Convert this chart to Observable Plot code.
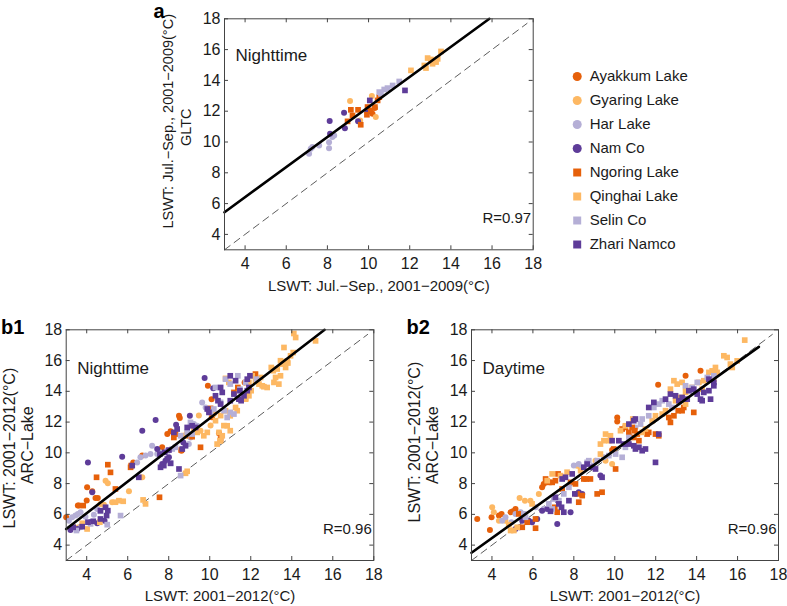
<!DOCTYPE html>
<html><head><meta charset="utf-8">
<script src="https://cdn.jsdelivr.net/npm/d3@7"></script>
<script src="https://cdn.jsdelivr.net/npm/@observablehq/plot@0.6"></script>
<style>
html,body{margin:0;padding:0;background:#fff;}
#chart{position:relative;width:787px;height:606px;overflow:hidden;background:#fff;}
#chart svg{position:absolute;left:0;top:0;}
</style></head><body><div id="chart"></div>
<script>
// ---------- categories ----------
const lakes = ["Ayakkum Lake","Gyaring Lake","Har Lake","Nam Co","Ngoring Lake","Qinghai Lake","Selin Co","Zhari Namco"];
const lakeSymbols = ["circle","circle","circle","circle","square","square","square","square"];
const lakeColors = ["#e6600a","#fdb863","#b5afd6","#5e3c99","#e6600a","#fdb863","#b5afd6","#5e3c99"];
const xTicks = [4,6,8,10,12,14,16,18];
const yTicks = [4,6,8,10,12,14,16,18];

// ---------- panel a (GLTC, nighttime) ----------
const aAyakkum = [[10.19,11.83],[10.3,12.2]];
const aGyaring = [[9.1,12.66],[10.16,12.98],[10.35,11.62],[9.59,11.4]];
const aHar = [[8.33,10.43],[8.24,10.32],[8.08,9.99],[8.08,9.6],[7.6,9.78],[7.19,9.56],[7.11,9.24],[7.27,9.67]];
const aNam = [[8.81,11.9],[8.11,11.36],[8.85,10.9],[9.49,11.34],[9.95,11.98],[8.13,10.53]];
const aNgoring = [[9.14,12.09],[9.49,12.09],[9.22,11.72],[8.98,11.34],[9.62,11.12],[9.95,12.27],[10.11,12.05],[9.92,11.77],[10.31,12.27],[10.52,12.91],[10.44,12.7]];
const aQinghai = [[12.87,15.45],[13.03,15.36],[13.2,15.3],[13.36,15.4],[13.28,15.19],[13.11,15.08],[12.79,14.8],[12.71,14.97],[13.52,15.88],[12.06,14.65]];
const aSelin = [[11.49,13.93],[11.17,13.67],[10.92,13.5],[10.76,13.41],[10.52,13.24],[10.6,13.13]];
const aZhari = [[11.77,13.35],[10.06,12.7]];
const aFit = [[3,5.44],[15.87,18]];

// ---------- panel b1 (ARC-Lake, nighttime) ----------
const b1Ayakkum = [[3.0,5.81],[3.57,6.57],[4.0,6.9],[4.02,7.76],[4.43,7.07],[4.54,7.07],[6.27,9.38],[6.71,9.82],[7.68,10.36],[7.93,11.22],[8.09,11.4],[8.5,12.41],[8.54,12.26],[9.91,14.36],[10.09,13.49],[10.45,11.27],[11.7,14.58],[8.62,10.14],[10.1,12.31],[3.62,6.57],[4.27,7.5]];
const b1Gyaring = [[4.92,8.19],[5.03,8.02],[4.67,6.68],[4.84,6.63],[6.71,8.41],[3.4,5.16],[3.62,5.16],[9.47,12.42],[10.04,11.77],[9.55,11.44],[10.2,12.52],[8.9,11.33],[5.24,6.79],[6.06,7.5]];
const b1Har = [[3.13,5.59],[3.29,5.81],[3.45,5.92],[3.57,6.03],[3.7,6.14],[3.94,5.85],[4.35,5.98],[4.51,6.35],[6.46,9.38],[6.62,9.71],[6.87,9.82],[7.11,9.92],[7.44,9.92],[7.6,10.03],[8.98,10.57],[9.06,11.0],[9.23,11.87],[9.39,11.76],[9.63,13.28],[9.8,12.95],[7.19,10.46],[3.7,5.16]];
const b1Nam = [[4.06,9.38],[4.27,7.44],[5.73,9.75],[6.71,11.44],[7.36,12.13],[9.75,14.86],[3.21,4.99],[3.54,5.05],[4.19,5.49],[4.51,5.42],[4.87,5.59],[7.68,9.27],[7.84,9.49],[8.01,9.71],[8.36,11.83],[8.71,10.68],[9.03,12.41],[10.17,14.2],[7.44,10.25]];
const b1Ngoring = [[3.83,6.57],[4.48,8.41],[5.03,9.23],[5.16,8.73],[5.4,7.65],[6.17,9.17],[6.14,9.06],[7.55,7.11],[8.25,11.0],[8.61,10.18],[8.82,11.11],[9.55,10.36],[10.04,12.89],[10.53,10.9],[11.18,13.93],[11.37,14.25],[12.23,15.12],[8.33,11.22],[9.14,11.05]];
const b1Qinghai = [[5.4,6.79],[5.57,6.89],[5.78,6.85],[6.75,6.94],[6.87,6.68],[8.82,8.67],[8.9,8.8],[3.78,5.42],[4.02,5.05],[4.64,5.49],[9.39,11.33],[9.71,11.11],[10.53,10.79],[10.36,10.57],[10.45,11.33],[10.28,12.09],[10.61,11.11],[11.26,12.95],[11.34,12.74],[11.0,12.41],[11.75,13.49],[11.91,13.71],[12.02,14.04],[12.23,14.69],[12.4,14.47],[12.48,14.9],[12.64,14.3],[12.8,14.25],[13.13,14.58],[13.21,14.9],[13.45,15.01],[13.53,15.77],[13.7,15.55],[13.78,15.98],[13.94,16.31],[14.07,16.52],[14.1,17.76],[14.19,17.5],[15.16,17.28],[13.62,16.85],[10.85,11.76],[11.0,11.44],[13.45,15.99],[13.62,15.92],[13.81,15.84],[13.0,15.55],[13.1,15.34],[13.29,15.45],[13.37,14.47],[12.56,14.36],[12.07,15.01],[11.91,14.58],[11.75,13.54],[10.77,14.84],[10.93,14.58],[10.53,12.42],[10.77,12.74],[10.69,11.77],[10.5,10.79],[9.88,11.33],[9.23,11.44],[8.74,11.12]];
const b1Selin = [[4.19,5.38],[3.5,4.95],[4.67,6.2],[5.0,5.33],[5.65,5.92],[7.93,10.14],[8.17,10.25],[8.33,10.36],[8.09,9.32],[8.58,8.52],[9.14,11.22],[8.9,11.33],[8.58,11.11],[9.06,11.98],[10.04,12.63],[10.2,12.85],[10.53,13.28],[10.7,12.74],[10.85,12.3],[11.0,12.63],[11.18,12.52],[10.77,14.79],[11.0,14.47],[11.37,15.01],[11.47,14.14],[11.75,14.58],[10.28,14.25],[12.28,14.79]];
const b1Zhari = [[3.34,5.16],[3.78,5.2],[4.06,5.49],[4.32,5.55],[4.67,5.7],[4.97,5.92],[5.03,6.24],[4.92,6.46],[4.67,6.24],[6.22,9.17],[6.54,8.41],[7.57,9.92],[7.76,9.17],[7.93,9.6],[8.09,9.32],[7.6,9.06],[7.81,10.03],[8.01,10.18],[8.25,11.33],[8.41,11.55],[8.82,10.46],[8.66,10.25],[8.5,8.95],[9.14,11.76],[9.31,11.65],[8.9,11.65],[9.88,12.85],[9.96,12.63],[10.4,13.39],[10.53,13.17],[10.28,13.71],[10.53,14.25],[10.61,13.93],[11.0,13.39],[11.18,13.82],[11.42,13.49],[11.53,13.39],[11.67,13.71],[11.47,14.04],[11.0,15.01],[11.26,14.69],[11.96,15.01],[11.83,14.79],[11.83,14.04],[11.91,14.25]];
const b1Fit = [[3,5.05],[15.6,18]];

// ---------- panel b2 (ARC-Lake, daytime) ----------
const b2Ayakkum = [[3.28,5.7],[3.9,4.99],[3.98,5.81],[4.34,5.92],[4.47,6.03],[4.91,6.14],[5.02,6.2],[10.12,12.3],[10.12,12.04],[12.12,14.43],[13.46,15.01],[14.19,15.33],[6.45,7.76],[6.53,7.98],[9.87,10.18],[5.15,6.35]];
const b2Gyaring = [[4.01,6.46],[4.09,6.14],[4.34,5.59],[4.66,5.59],[5.35,7.07],[5.61,6.89],[5.88,6.89],[6.29,7.33],[9.06,9.49],[9.55,9.49],[9.87,9.27],[8.16,9.16]];
const b2Har = [[4.5,5.59],[4.66,5.81],[4.95,5.49],[5.15,6.03],[5.4,6.14],[6.13,6.46],[6.53,6.35],[8.0,9.17],[8.24,9.27],[8.41,9.06],[9.47,9.71],[11.01,11.65]];
const b2Nam = [[5.15,5.05],[5.35,5.16],[5.48,5.59],[5.8,5.59],[5.96,5.49],[6.21,5.7],[6.45,6.24],[6.7,6.35],[7.19,5.38],[7.22,6.89],[7.84,6.14],[8.24,7.44],[8.41,7.33],[9.3,8.52]];
const b2Ngoring = [[5.31,6.03],[5.48,5.16],[5.72,5.49],[6.13,5.7],[6.13,5.1],[6.62,8.3],[6.78,8.08],[6.94,8.08],[7.1,8.19],[7.23,8.63],[7.19,6.14],[7.07,6.46],[7.43,7.65],[7.84,8.08],[8.08,7.98],[8.16,7.33],[8.24,6.79],[8.41,7.22],[8.49,8.3],[8.6,8.3],[8.81,8.3],[9.14,7.33],[9.38,7.44],[10.04,8.95],[9.95,10.25],[10.36,11.55],[10.52,11.65],[10.69,11.33],[10.85,11.65],[10.98,11.44],[10.93,11.0],[11.1,11.22],[11.18,10.79],[11.58,11.22],[11.66,11.33],[11.99,11.22],[12.15,11.11],[12.64,12.3],[12.72,11.98],[12.89,12.41],[13.1,12.74],[13.29,12.74],[13.86,12.63],[13.37,12.95]];
const b2Qinghai = [[4.82,5.33],[4.91,4.95],[5.07,4.95],[5.23,5.16],[5.96,6.68],[6.7,8.19],[6.94,8.63],[7.35,8.52],[7.51,8.41],[7.67,8.74],[8.33,8.84],[9.3,9.92],[9.3,10.57],[9.47,10.79],[9.71,10.79],[9.55,11.22],[9.79,11.11],[10.28,11.44],[10.52,11.76],[10.88,12.2],[11.34,11.33],[11.5,11.55],[11.83,12.09],[11.99,12.41],[12.32,12.52],[12.48,12.74],[12.72,14.14],[12.89,14.69],[13.05,14.47],[13.29,14.58],[13.46,14.25],[12.97,13.39],[13.21,13.6],[13.46,13.17],[13.46,13.93],[13.78,14.25],[14.35,14.69],[14.6,15.23],[14.76,15.33],[14.92,15.55],[14.84,14.79],[15.0,15.23],[15.33,16.31],[15.49,16.2],[15.65,15.77],[15.74,15.55],[15.98,15.98],[16.35,17.33],[14.11,14.58],[14.27,14.14]];
const b2Selin = [[5.56,6.03],[5.64,5.81],[6.78,6.68],[6.94,6.35],[7.02,7.0],[7.27,6.89],[7.51,7.33],[7.76,7.76],[8.65,9.38],[8.73,9.49],[8.98,9.17],[9.14,9.49],[9.71,9.82],[10.04,9.92],[10.36,9.71],[10.52,10.36],[10.69,11.0],[11.34,12.2],[11.66,12.41],[11.91,12.95],[12.15,13.17],[12.32,13.39],[12.64,13.17],[12.8,12.95],[13.46,14.36],[13.78,14.25],[13.86,13.93],[14.03,14.58],[14.52,14.9],[14.84,15.01],[11.26,11.87]];
const b2Zhari = [[6.86,6.2],[7.1,7.11],[7.27,6.68],[7.4,6.46],[7.51,6.14],[7.76,6.89],[8.05,7.33],[7.43,8.3],[7.59,8.41],[7.92,8.63],[8.49,9.06],[8.65,9.27],[8.9,9.06],[9.06,8.95],[9.38,8.41],[9.87,10.79],[10.2,10.79],[10.44,10.57],[10.69,10.57],[10.93,10.46],[11.01,10.25],[11.18,10.36],[11.34,10.14],[11.5,10.25],[11.99,9.38],[12.15,11.22],[10.69,11.87],[10.93,12.09],[11.01,12.2],[11.66,12.95],[11.91,13.28],[12.48,13.49],[12.72,13.82],[12.97,13.71],[13.13,13.39],[13.29,13.6],[13.54,13.49],[13.62,14.04],[13.86,14.14],[14.03,13.82],[14.19,13.49],[14.35,13.93],[14.6,14.04],[14.68,13.49],[14.84,14.36],[14.6,14.79],[14.84,14.58],[14.27,13.39]];
const b2Fit = [[3,3.5],[17.04,16.89]];

const oneToOne = [[3,3],[17.7,17.7]];

// ---------- build ----------
const FONT = "'Liberation Sans', Arial, Helvetica, sans-serif";
const INK = "#1a1a1a";
const AXC = "#444";

function toRows(arrs) {
  return lakes.flatMap((lake, i) => arrs[i].map(([x, y]) => ({lake, x, y, sym: lakeSymbols[i]})));
}

function panel(o) {
  const W = o.R - o.L, H = o.B - o.T;
  const rows = toRows(o.arrs);
  return Plot.plot({
    width: 787, height: 606,
    marginLeft: o.L, marginRight: 787 - o.R, marginTop: o.T, marginBottom: 606 - o.B,
    style: {fontFamily: FONT, fontSize: "15px", color: INK, background: "transparent", overflow: "visible"},
    x: {domain: [3, 18]},
    y: {domain: [3, 18]},
    color: {domain: lakes, range: lakeColors},
    symbol: {domain: lakes, range: lakeSymbols},
    marks: [
      Plot.line(oneToOne, {x: d => d[0], y: d => d[1], stroke: "#333", strokeWidth: 0.8, strokeDasharray: "7,5"}),
      Plot.dot(rows.filter(d => d.sym === "circle"), {x: "x", y: "y", fill: "lake", symbol: "lake", r: 3}),
      Plot.dot(rows.filter(d => d.sym === "square"), {x: "x", y: "y", fill: "lake", symbol: "lake", r: 3.2}),
      Plot.line(o.fit, {x: d => d[0], y: d => d[1], stroke: "#000", strokeWidth: 2.6}),
      Plot.frame({stroke: AXC, strokeWidth: 1}),
      Plot.tickX(xTicks, {x: d => d, insetTop: H - 4, stroke: AXC}),
      Plot.tickX(xTicks, {x: d => d, insetBottom: H - 4, stroke: AXC}),
      Plot.tickY(yTicks, {y: d => d, insetRight: W - 4, stroke: AXC}),
      Plot.tickY(yTicks, {y: d => d, insetLeft: W - 4, stroke: AXC}),
      Plot.axisX(xTicks, {tickSize: 0, tickPadding: 8, label: null, fill: INK, fontSize: 16}),
      Plot.axisY(yTicks, {tickSize: 0, tickPadding: 4, label: null, fill: INK, fontSize: 16}),
      Plot.text([o.xTitle], {text: d => d, frameAnchor: "bottom", dy: 36, lineAnchor: "middle", fill: INK}),
      Plot.text([o.yTitle1], {text: d => d, frameAnchor: "left", rotate: -90, dx: -56.5, dy: o.yDy1, lineAnchor: "middle", textAnchor: "middle", fontSize: o.yFont, fill: INK}),
      Plot.text([o.yTitle2], {text: d => d, frameAnchor: "left", rotate: -90, dx: -38.5, dy: o.yDy2, lineAnchor: "middle", textAnchor: "middle", fontSize: o.yFont, fill: INK}),
      Plot.text([o.time], {text: d => d, frameAnchor: "top-left", dx: 11, dy: o.timeDy, lineAnchor: "top", textAnchor: "start", fontSize: 17, fill: INK}),
      Plot.text([o.r], {text: d => d, frameAnchor: "bottom-right", dx: -2, dy: -31.5, lineAnchor: "middle", textAnchor: "end", fill: INK}),
      Plot.text([o.tag], {text: d => d, frameAnchor: "top-left", dx: o.tagDx, dy: o.tagDy, lineAnchor: "middle", textAnchor: "start", fontSize: 20, fontWeight: "bold", fill: "#000"})
    ]
  });
}

const chart = document.getElementById("chart");

chart.append(panel({
  L: 224, R: 532.7, T: 18.3, B: 249.3,
  arrs: [aAyakkum, aGyaring, aHar, aNam, aNgoring, aQinghai, aSelin, aZhari],
  fit: aFit,
  xTitle: "LSWT: Jul.\u2212Sep., 2001\u22122009(\u00b0C)",
  yTitle1: "LSWT: Jul.\u2212Sep., 2001\u22122009(\u00b0C)", yTitle2: "GLTC",
  yDy1: -13, yDy2: -7, yFont: 14.5,
  time: "Nighttime", timeDy: 30,
  r: "R=0.97",
  tag: "a", tagDx: -71, tagDy: -7.5
}));

chart.append(panel({
  L: 65.7, R: 373.3, T: 329.3, B: 560,
  arrs: [b1Ayakkum, b1Gyaring, b1Har, b1Nam, b1Ngoring, b1Qinghai, b1Selin, b1Zhari],
  fit: b1Fit,
  xTitle: "LSWT: 2001\u22122012(\u00b0C)",
  yTitle1: "LSWT: 2001\u22122012(\u00b0C)", yTitle2: "ARC\u2212Lake",
  yDy1: 3, yDy2: 0, yFont: 16,
  time: "Nighttime", timeDy: 32,
  r: "R=0.96",
  tag: "b1", tagDx: -65.2, tagDy: -2.7
}));

chart.append(panel({
  L: 471, R: 778, T: 329.3, B: 560,
  arrs: [b2Ayakkum, b2Gyaring, b2Har, b2Nam, b2Ngoring, b2Qinghai, b2Selin, b2Zhari],
  fit: b2Fit,
  xTitle: "LSWT: 2001\u22122012(\u00b0C)",
  yTitle1: "LSWT: 2001\u22122012(\u00b0C)", yTitle2: "ARC\u2212Lake",
  yDy1: -3, yDy2: 0, yFont: 16,
  time: "Daytime", timeDy: 32,
  r: "R=0.96",
  tag: "b2", tagDx: -65, tagDy: -2.7
}));

// legend
chart.append(Plot.plot({
  width: 787, height: 606,
  marginLeft: 576.7, marginRight: 110.3, marginTop: 74, marginBottom: 606 - 246.5,
  style: {fontFamily: FONT, fontSize: "15px", color: INK, background: "transparent", overflow: "visible"},
  x: {domain: [0, 1], axis: null},
  y: {type: "point", domain: lakes, padding: 0, axis: null},
  color: {domain: lakes, range: lakeColors},
  symbol: {domain: lakes, range: lakeSymbols},
  marks: [
    Plot.dot(lakes, {x: () => 0, y: d => d, fill: d => d, symbol: d => d, r: 4.5}),
    Plot.text(lakes, {x: () => 0, y: d => d, text: d => d, dx: 12.5, textAnchor: "start", lineAnchor: "middle", fill: INK})
  ]
}));
</script>
</body></html>
